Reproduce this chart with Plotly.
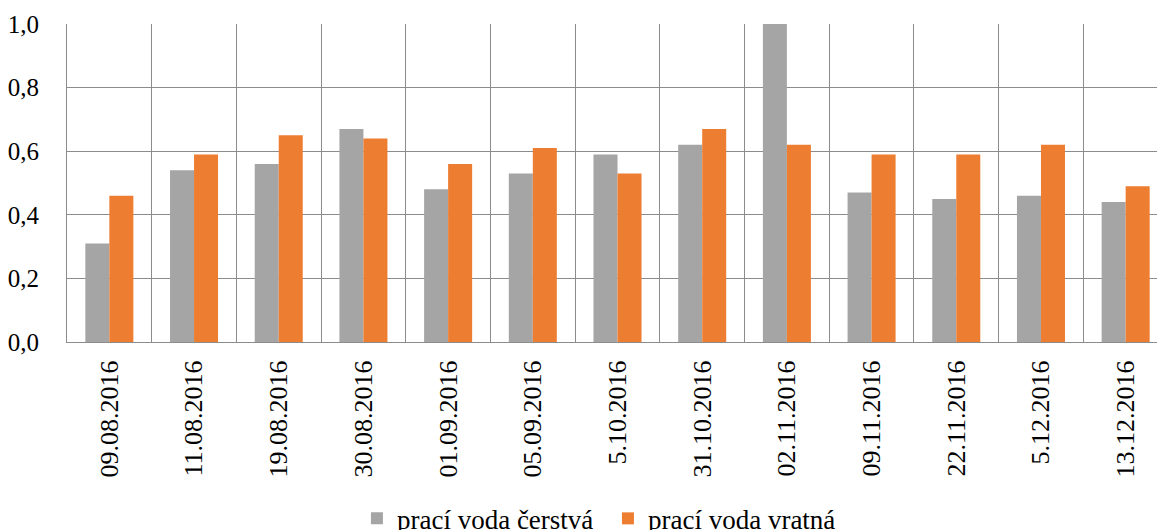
import plotly.graph_objects as go

categories = ["09.08.2016", "11.08.2016", "19.08.2016", "30.08.2016", "01.09.2016",
              "05.09.2016", "5.10.2016", "31.10.2016", "02.11.2016", "09.11.2016",
              "22.11.2016", "5.12.2016", "13.12.2016"]
fresh = [0.31, 0.54, 0.56, 0.67, 0.48, 0.53, 0.59, 0.62, 1.0, 0.47, 0.45, 0.46, 0.44]
returned = [0.46, 0.59, 0.65, 0.64, 0.56, 0.61, 0.53, 0.67, 0.62, 0.59, 0.59, 0.62, 0.49]
y_ticks = [0.0, 0.2, 0.4, 0.6, 0.8, 1.0]
y_tick_labels = ["0,0", "0,2", "0,4", "0,6", "0,8", "1,0"]

FONT = "Liberation Serif, Tinos, Times New Roman, serif"
GRID = "#8c8c8c"

fig = go.Figure()
fig.add_trace(go.Bar(x=categories, y=fresh, name="prací voda čerstvá",
                     marker=dict(color="#A5A5A5", line=dict(width=0))))
fig.add_trace(go.Bar(x=categories, y=returned, name="prací voda vratná",
                     marker=dict(color="#ED7D31", line=dict(width=0))))

fig.update_layout(
    width=1157, height=530,
    margin=dict(l=67, r=0, t=24, b=188, autoexpand=False),
    paper_bgcolor="white", plot_bgcolor="white",
    barmode="group", bargap=0.433, bargroupgap=0,
    font=dict(family=FONT, size=26, color="black"),
    showlegend=True,
    legend=dict(orientation="h", xanchor="left", x=0.266, yanchor="middle", y=-0.556,
                font=dict(family=FONT, size=27, color="black"),
                bgcolor="rgba(0,0,0,0)", itemwidth=30, traceorder="normal",
                entrywidth=206),
)
fig.update_xaxes(
    type="category", range=[-0.5, 12.37], tickson="boundaries",
    showgrid=True, gridcolor=GRID, gridwidth=1,
    showline=True, linecolor=GRID, linewidth=1,
    ticks="", tickangle=-90, ticklabelstandoff=7,
    tickfont=dict(family=FONT, size=26, color="black"),
)
fig.update_yaxes(
    range=[0, 1.0], tickvals=y_ticks, ticktext=y_tick_labels,
    showgrid=True, gridcolor=GRID, gridwidth=1, zeroline=False,
    showline=True, linecolor=GRID, linewidth=1, mirror=False,
    ticks="", ticklabelstandoff=22,
    tickfont=dict(family=FONT, size=25, color="black"),
)

fig.write_html("out.html", config={"displayModeBar": False},
               post_script="document.body.style.margin='0';")
